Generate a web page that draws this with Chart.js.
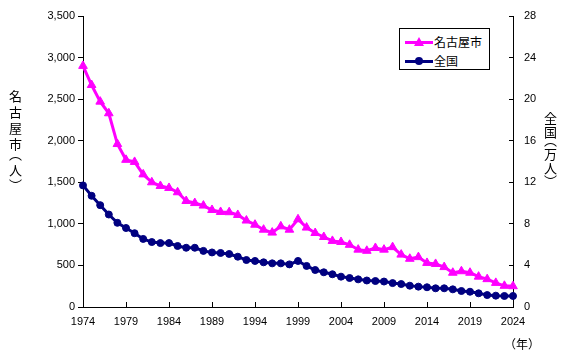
<!DOCTYPE html>
<html>
<head>
<meta charset="utf-8">
<script src="https://cdn.jsdelivr.net/npm/chart.js@4"></script>
<style>
  body { margin: 0; background: #fff; }
  #wrap { position: relative; width: 563px; height: 362px; }
  .vtitle { position: absolute; writing-mode: vertical-rl; font-family: "Noto Sans CJK JP", sans-serif; font-size: 13px; color: #000; line-height: 1; font-feature-settings: "vpal"; }
  #legend { position: absolute; left: 399px; top: 28px; width: 89px; height: 40px; border: 1px solid #000; background: #fff;
            font-family: "Noto Sans CJK JP", sans-serif; font-size: 12px; }
  .item { position: absolute; left: 5px; height: 14px; }
  .item .ln { position: absolute; left: 0; top: 6px; width: 28px; height: 3px; }
  .item .mk { position: absolute; }
  .item .tx { position: absolute; left: 29px; top: -2px; white-space: nowrap; line-height: 18px; }
  #unitX { position: absolute; left: 504px; top: 335px; font-family: "Noto Sans CJK JP", sans-serif; font-size: 12px; }
</style>
</head>
<body>
<div id="wrap">
  <canvas id="chart" width="563" height="362"></canvas>
  <div class="vtitle" id="titleL" style="left:9px; top:90px; letter-spacing:3px;">名古屋市（人）</div>
  <div class="vtitle" id="titleR" style="left:544px; top:112px; letter-spacing:1px;">全国（万人）</div>
  <div id="legend"></div>
  <div id="unitX">（年）</div>
</div>
<script>
var years = ['1974','1975','1976','1977','1978','1979','1980','1981','1982','1983',
             '1984','1985','1986','1987','1988','1989','1990','1991','1992','1993',
             '1994','1995','1996','1997','1998','1999','2000','2001','2002','2003',
             '2004','2005','2006','2007','2008','2009','2010','2011','2012','2013',
             '2014','2015','2016','2017','2018','2019','2020','2021','2022','2023','2024'];

// 名古屋市（人）
var nagoya = [2900, 2670, 2470, 2330, 1960, 1770, 1745, 1595, 1500, 1456,
              1432, 1380, 1275, 1250, 1220, 1167, 1143, 1140, 1107, 1040,
              990, 930, 895, 970, 930, 1055, 955, 890, 842, 795,
              782, 748, 690, 676, 710, 690, 720, 630, 580, 600,
              530, 518, 480, 412, 430, 412, 365, 335, 290, 255, 250];

// 全国（万人）
var zenkoku = [11.7, 10.7, 9.8, 8.9, 8.1, 7.6, 7.1, 6.55, 6.25, 6.15,
               6.15, 5.87, 5.7, 5.7, 5.4, 5.25, 5.2, 5.1, 4.84, 4.52,
               4.43, 4.3, 4.2, 4.2, 4.1, 4.43, 3.95, 3.56, 3.34, 3.15,
               2.92, 2.79, 2.66, 2.55, 2.5, 2.45, 2.3, 2.21, 2.05, 1.96,
               1.9, 1.8, 1.8, 1.7, 1.54, 1.47, 1.32, 1.15, 1.09, 1.06, 1.06];

var seriesNames = ['名古屋市', '全国'];
var seriesColors = ['#FF00FF', '#000080'];

var tickFont = { family: 'Liberation Sans, Arial, sans-serif', size: 11 };

// fix the axis boxes so the plot area sits where the original one does
function fitY(w) {
    return function (s) { s.width = w; s.paddingTop = 0; s.paddingBottom = 0; };
}

var ctx = document.getElementById('chart').getContext('2d');
var chart = new Chart(ctx, {
    type: 'line',
    data: {
        labels: years,
        datasets: [{
            label: seriesNames[0],
            data: nagoya,
            yAxisID: 'y',
            borderColor: seriesColors[0],
            backgroundColor: seriesColors[0],
            borderWidth: 3,
            pointStyle: 'triangle',
            pointRadius: 5,
            pointBorderWidth: 1,
            tension: 0
        }, {
            label: seriesNames[1],
            data: zenkoku,
            yAxisID: 'y1',
            borderColor: seriesColors[1],
            backgroundColor: seriesColors[1],
            borderWidth: 3,
            pointStyle: 'circle',
            pointRadius: 3.5,
            pointBorderWidth: 1,
            tension: 0
        }]
    },
    options: {
        responsive: false,
        animation: false,
        devicePixelRatio: 1,
        layout: { padding: { top: 16, left: 0, right: 0, bottom: 0 } },
        plugins: {
            legend: { display: false },
            tooltip: { enabled: false }
        },
        scales: {
            x: {
                offset: false,
                border: { display: true, color: '#000', width: 1 },
                grid: {
                    drawOnChartArea: false,
                    tickLength: -5,
                    color: function (c) { return c.index % 5 === 0 ? '#000' : 'rgba(0,0,0,0)'; }
                },
                ticks: {
                    autoSkip: false,
                    maxRotation: 0,
                    padding: 13,
                    color: '#000',
                    font: tickFont,
                    callback: function (v, i) { return i % 5 === 0 ? years[i] : ''; }
                },
                afterFit: function (s) { s.height = 55; s.paddingLeft = 0; s.paddingRight = 0; }
            },
            y: {
                position: 'left',
                min: 0,
                max: 3500,
                border: { display: true, color: '#000', width: 1 },
                grid: { drawOnChartArea: false, tickLength: 5, color: '#000' },
                ticks: { stepSize: 500, padding: 3, color: '#000', font: tickFont },
                afterFit: fitY(83)
            },
            y1: {
                position: 'right',
                min: 0,
                max: 28,
                border: { display: true, color: '#000', width: 1 },
                grid: { drawOnChartArea: false, tickLength: -4, color: '#000' },
                ticks: { stepSize: 4, padding: 15, color: '#000', font: tickFont },
                afterFit: fitY(50)
            }
        }
    }
});

// legend built from the series names and colours
var legend = document.getElementById('legend');
seriesNames.forEach(function (name, i) {
    var row = document.createElement('div');
    row.className = 'item';
    row.style.top = (i === 0 ? 6 : 25) + 'px';
    var ln = document.createElement('div');
    ln.className = 'ln';
    ln.style.background = seriesColors[i];
    var mk = document.createElement('div');
    mk.className = 'mk';
    if (i === 0) {
        mk.style.cssText = 'left:9px;top:2px;width:0;height:0;border-left:5px solid transparent;border-right:5px solid transparent;border-bottom:9px solid ' + seriesColors[i] + ';';
    } else {
        mk.style.cssText = 'left:10px;top:3px;width:8px;height:8px;border-radius:50%;background:' + seriesColors[i] + ';';
    }
    var tx = document.createElement('div');
    tx.className = 'tx';
    tx.textContent = name;
    row.appendChild(ln);
    row.appendChild(mk);
    row.appendChild(tx);
    legend.appendChild(row);
});
</script>
</body>
</html>
